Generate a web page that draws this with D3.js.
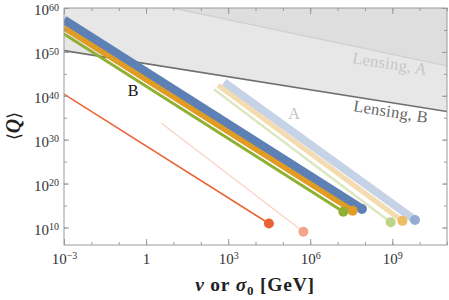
<!DOCTYPE html>
<html>
<head>
<meta charset="utf-8">
<script src="https://cdn.jsdelivr.net/npm/d3@7"></script>
<style>
  body { margin: 0; background: #fff; }
</style>
</head>
<body>
<div id="chart"></div>
<script>
// exponents (log10)
var lineNames = ["blueA", "orangeA", "greenA", "redA", "red", "blueB", "orangeB", "greenB"];
var startLogV = [2.85, 2.63, 2.48, 0.55, -3, -3, -3, -3];
var startLogQ = [43.1, 42.4, 41.5, 33.8, 40.4, 57.25, 55.5, 54.1];
var endLogV   = [9.83, 9.37, 8.94, 5.75, 4.49, 7.89, 7.55, 7.21];
var endLogQ   = [11.7, 11.5, 11.2, 9.0, 10.9, 14.2, 13.8, 13.6];

// lensing bounds
var lensALogV = [0.98, 11];
var lensALogQ = [60, 46.8];
var lensBLogV = [-3, 11];
var lensBLogQ = [50.3, 36.4];

var yTickExp = [10, 20, 30, 40, 50, 60];
var yMinorExp = [10, 15, 20, 25, 30, 35, 40, 45, 50, 55];
var xTickExp = [-3, 0, 3, 6, 9];
var xMinorExp = d3.range(-3, 12);

var styles = {
  blueA:   {color: "#c6d3e7", width: 8,   dot: "#93acd2", r: 5},
  orangeA: {color: "#f4dcb0", width: 5,   dot: "#eebc62", r: 5},
  greenA:  {color: "#dde8c3", width: 2.5, dot: "#bcd38a", r: 5},
  redA:    {color: "#f9d2c5", width: 1.2, dot: "#f4a58d", r: 5},
  red:     {color: "#eb6235", width: 1.5, dot: "#eb6235", r: 5},
  blueB:   {color: "#5e81b5", width: 9,   dot: "#5e81b5", r: 5},
  orangeB: {color: "#e19c24", width: 5.5, dot: "#e19c24", r: 5},
  greenB:  {color: "#8fb032", width: 3,   dot: "#8fb032", r: 5}
};

var serif = "'Liberation Serif'";

var W = 449, H = 300;
var margin = {top: 8, right: 2, bottom: 55, left: 64};
var width = W - margin.left - margin.right,
    height = H - margin.top - margin.bottom;

var svg = d3.select("#chart")
  .append("svg")
    .attr("width", W)
    .attr("height", H)
    .style("font-family", serif);

var p = function(e) { return Math.pow(10, e); };

var x = d3.scaleLog()
    .domain([1e-3, 1e11])
    .range([margin.left, margin.left + width]);
var y = d3.scaleLog()
    .domain([1e6, 1e60])
    .range([margin.top + height, margin.top]);

svg.append("clipPath").attr("id", "clip")
  .append("rect")
    .attr("x", margin.left).attr("y", margin.top)
    .attr("width", width).attr("height", height);

var plot = svg.append("g").attr("clip-path", "url(#clip)");

// shaded excluded regions
var topY = margin.top - 2;
var polyB = [[x(p(lensBLogV[0])), y(p(lensBLogQ[0]))],
             [x(p(lensBLogV[1])), y(p(lensBLogQ[1]))],
             [x(p(lensBLogV[1])), topY],
             [x(p(lensBLogV[0])), topY]];
plot.append("path")
    .attr("d", "M" + polyB.join("L") + "Z")
    .style("fill", "#e7e7e7");

var polyA = [[x(p(lensALogV[0])), y(p(lensALogQ[0]))],
             [x(p(lensALogV[1])), y(p(lensALogQ[1]))],
             [x(p(lensALogV[1])), topY]];
plot.append("path")
    .attr("d", "M" + polyA.join("L") + "Z")
    .style("fill", "#dedede");

plot.append("line")
    .attr("x1", x(p(lensALogV[0]))).attr("y1", y(p(lensALogQ[0])))
    .attr("x2", x(p(lensALogV[1]))).attr("y2", y(p(lensALogQ[1])))
    .style("stroke", "#d0d0d0").style("stroke-width", 1.3);

plot.append("line")
    .attr("x1", x(p(lensBLogV[0]))).attr("y1", y(p(lensBLogQ[0])))
    .attr("x2", x(p(lensBLogV[1]))).attr("y2", y(p(lensBLogQ[1])))
    .style("stroke", "#6f6f6f").style("stroke-width", 1.6);

// the Q lines and their end dots
lineNames.forEach(function(name, i) {
  var s = styles[name];
  plot.append("line")
      .attr("x1", x(p(startLogV[i]))).attr("y1", y(p(startLogQ[i])))
      .attr("x2", x(p(endLogV[i]))).attr("y2", y(p(endLogQ[i])))
      .style("stroke", s.color)
      .style("stroke-width", s.width);
});
lineNames.forEach(function(name, i) {
  var s = styles[name];
  plot.append("circle")
      .attr("cx", x(p(endLogV[i]))).attr("cy", y(p(endLogQ[i])))
      .attr("r", s.r)
      .style("fill", s.dot);
});

// frame
svg.append("rect")
    .attr("x", margin.left).attr("y", margin.top)
    .attr("width", width).attr("height", height)
    .style("fill", "none").style("stroke", "#9a9a9a").style("stroke-width", 1);

// superscript labels
function powLabel(sel, e) {
  sel.text(null);
  if (e === 0) { sel.append("tspan").text("1"); return; }
  sel.append("tspan").text("10");
  sel.append("tspan").attr("dy", "-0.45em").style("font-size", "10px")
     .text(e < 0 ? "\u2212" + (-e) : e);
}

function styleAxis(g) {
  g.attr("font-family", null);
  g.select(".domain").remove();
  g.selectAll(".tick line").style("stroke", "#9a9a9a");
  g.selectAll(".tick text").style("fill", "#333").style("font-size", "15px")
    .style("font-family", serif);
}

// y axes (left with labels, right ticks only)
svg.append("g")
    .attr("transform", "translate(" + margin.left + ",0)")
    .call(d3.axisLeft(y).tickValues(yMinorExp.map(p)).tickSize(-3).tickFormat(""))
    .call(styleAxis);
svg.append("g")
    .attr("transform", "translate(" + margin.left + ",0)")
    .call(d3.axisLeft(y).tickValues(yTickExp.map(p)).tickSize(-5).tickPadding(5))
    .call(styleAxis)
    .call(function(g) {
      g.selectAll(".tick text").each(function(d, i) {
        d3.select(this).attr("dy", "0.45em");
        powLabel(d3.select(this), yTickExp[i]);
      });
    });
svg.append("g")
    .attr("transform", "translate(" + (margin.left + width) + ",0)")
    .call(d3.axisRight(y).tickValues(yMinorExp.map(p)).tickSize(-3).tickFormat(""))
    .call(styleAxis);
svg.append("g")
    .attr("transform", "translate(" + (margin.left + width) + ",0)")
    .call(d3.axisRight(y).tickValues(yTickExp.map(p)).tickSize(-5).tickFormat(""))
    .call(styleAxis);

// x axes (bottom with labels, top ticks only)
svg.append("g")
    .attr("transform", "translate(0," + (margin.top + height) + ")")
    .call(d3.axisBottom(x).tickValues(xMinorExp.map(p)).tickSize(-3).tickFormat(""))
    .call(styleAxis);
svg.append("g")
    .attr("transform", "translate(0," + (margin.top + height) + ")")
    .call(d3.axisBottom(x).tickValues(xTickExp.map(p)).tickSize(-6).tickPadding(8))
    .call(styleAxis)
    .call(function(g) {
      g.selectAll(".tick text").each(function(d, i) {
        powLabel(d3.select(this), xTickExp[i]);
      });
    });
svg.append("g")
    .attr("transform", "translate(0," + margin.top + ")")
    .call(d3.axisTop(x).tickValues(xMinorExp.map(p)).tickSize(-3).tickFormat(""))
    .call(styleAxis);
svg.append("g")
    .attr("transform", "translate(0," + margin.top + ")")
    .call(d3.axisTop(x).tickValues(xTickExp.map(p)).tickSize(-6).tickFormat(""))
    .call(styleAxis);

// in-plot labels
svg.append("text")
    .attr("x", 133).attr("y", 96)
    .style("text-anchor", "middle").style("font-size", "16px").style("fill", "#111")
    .text("B");
svg.append("text")
    .attr("x", 294).attr("y", 119)
    .style("text-anchor", "middle").style("font-size", "16px").style("fill", "#c2c2c2")
    .text("A");
svg.append("text")
    .attr("transform", "translate(389,69) rotate(9)")
    .style("text-anchor", "middle").style("font-size", "16.5px").style("fill", "#c6c6c6")
    .style("letter-spacing", "0.3px")
    .text("Lensing, A");
svg.append("text")
    .attr("transform", "translate(390,117) rotate(9)")
    .style("text-anchor", "middle").style("font-size", "16.5px").style("fill", "#666")
    .style("letter-spacing", "0.3px")
    .text("Lensing, B");

// axis titles
var xt = svg.append("text")
    .attr("x", 255).attr("y", 291)
    .style("text-anchor", "middle").style("font-size", "19.5px")
    .style("letter-spacing", "0.8px")
    .style("font-weight", "bold").style("fill", "#222");
xt.append("tspan").style("font-style", "italic").text("v");
xt.append("tspan").text(" or ");
xt.append("tspan").style("font-style", "italic").text("\u03c3");
xt.append("tspan").attr("dy", "4").style("font-size", "13px").text("0");
xt.append("tspan").attr("dy", "-4").text(" [GeV]");

var yt = svg.append("text")
    .attr("transform", "translate(20,126) rotate(-90)")
    .style("text-anchor", "middle").style("font-size", "20px").style("fill", "#222");
yt.append("tspan").style("font-size", "18px").text("\u27e8");
yt.append("tspan").style("font-style", "italic").style("font-weight", "bold").text("Q");
yt.append("tspan").style("font-size", "18px").text("\u27e9");
</script>
</body>
</html>
